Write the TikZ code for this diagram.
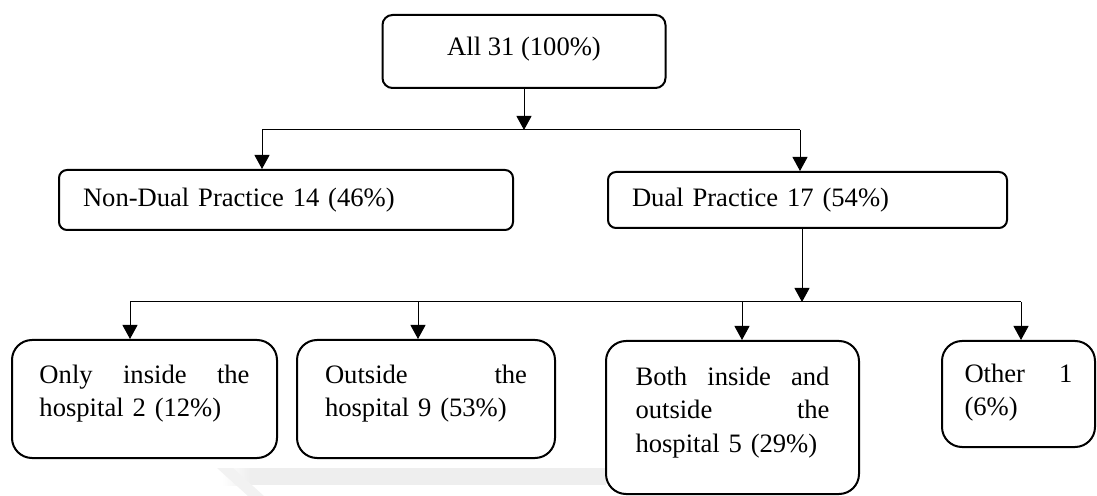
\documentclass[tikz,border=0pt]{standalone}
\usepackage{fontspec}
\setmainfont{Liberation Serif}
\usetikzlibrary{arrows.meta}

\begin{document}
\begin{tikzpicture}[x=0.5pt, y=-0.5pt,
	every node/.style={font=\fontsize{13.3}{16.75}\selectfont},
	box/.style={rectangle, draw, line width=1pt, inner sep=0pt},
	midbox/.style={box, rounded corners=4pt, inner xsep=12pt, align=left},
	leafbox/.style={box, rounded corners=10pt, align=left},
	arr/.style={-{Triangle[length=7pt, width=7.5pt]}, line width=0.5pt}]
	\useasboundingbox (0, 0) rectangle (1097, 496);

	\fill[gray!13] (250, 468) rectangle (606, 485);
	\shade[left color=white, right color=gray!13] (222, 468) rectangle (250, 485);
	\fill[gray!10] (217, 468) -- (233, 468) -- (264, 496) -- (248, 496) -- cycle;

	\node[box, rounded corners=5pt, minimum width=141.5pt, minimum height=36.5pt, text depth=5.5pt]
		(all) at (524, 51.5) {All 31 (100\%)};

	\node[midbox, text width=203pt, minimum height=30pt]
		(ndual) at (286, 200) {Non-Dual Practice 14 (46\%)};
	\node[midbox, text width=175.5pt, minimum height=28pt]
		(dual) at (807.5, 200) {Dual Practice 17 (54\%)};

	\node[leafbox, text width=105pt, minimum width=132.5pt, minimum height=59pt, text depth=25pt]
		(only) at (144.5, 399) {Only\hfill inside\hfill the\\hospital 2 (12\%)};
	\node[leafbox, text width=101pt, minimum width=129pt, minimum height=59pt, text depth=25pt]
		(outside) at (426, 399) {Outside\hfill the\\hospital 9 (53\%)};
	\node[leafbox, text width=97pt, minimum width=126.5pt, minimum height=76.5pt, text depth=41.5pt]
		(both) at (732.5, 417.5) {Both\hfill inside\hfill and\\outside\hfill the\\hospital 5 (29\%)};
	\node[leafbox, text width=54pt, minimum width=76.5pt, minimum height=53pt, text depth=21pt]
		(other) at (1018.5, 394) {Other\hfill 1\\(6\%)};

	\coordinate (s1) at (524, 130);
	\coordinate (nd) at (262, 130);
	\coordinate (du) at (800, 130);
	\draw[line width=0.5pt] (nd) -- (du);
	\draw[arr] (all) -- (s1);
	\draw[arr] (nd) -- (nd |- ndual.north);
	\draw[arr] (du) -- (du |- dual.north);

	\coordinate (s2) at (802, 302);
	\coordinate (b1) at (130, 302);
	\coordinate (b2) at (418, 302);
	\coordinate (b3) at (742, 302);
	\coordinate (b4) at (1021, 302);
	\draw[arr] (dual.south -| s2) -- (s2);
	\draw[line width=0.5pt] (b1) -- (b4);
	\foreach \c/\n in {b1/only, b2/outside, b3/both, b4/other}
		\draw[arr] (\c) -- (\c |- \n.north);
\end{tikzpicture}
\end{document}
